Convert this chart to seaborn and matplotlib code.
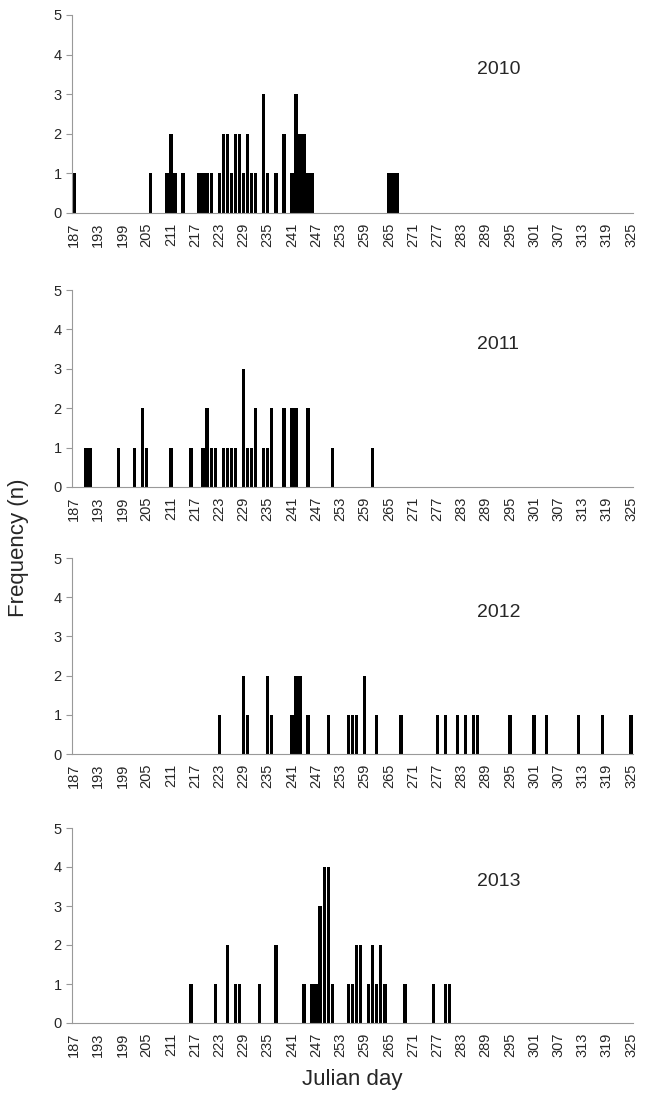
import matplotlib.pyplot as plt
import seaborn as sns
import pandas as pd

days_2010 = [187, 206, 210, 211, 212, 214, 218, 219, 220, 221, 223, 224, 225, 226, 227, 228, 229, 230,
             231, 232, 234, 235, 237, 239, 241, 242, 243, 244, 245, 246, 265, 266, 267]
n_2010 = [1, 1, 1, 2, 1, 1, 1, 1, 1, 1, 1, 2, 2, 1, 2, 2, 1, 2,
          1, 1, 3, 1, 1, 2, 1, 3, 2, 2, 1, 1, 1, 1, 1]

days_2011 = [190, 191, 198, 202, 204, 205, 211, 216, 219, 220, 221, 222, 224, 225, 226, 227, 229, 230,
             231, 232, 234, 235, 236, 239, 241, 242, 245, 251, 261]
n_2011 = [1, 1, 1, 1, 2, 1, 1, 1, 1, 2, 1, 1, 1, 1, 1, 1, 3, 1,
          1, 2, 1, 1, 2, 2, 2, 2, 2, 1, 1]

days_2012 = [223, 229, 230, 235, 236, 241, 242, 243, 245, 250, 255, 256, 257, 259, 262, 268, 277, 279,
             282, 284, 286, 287, 295, 301, 304, 312, 318, 325]
n_2012 = [1, 2, 1, 2, 1, 1, 2, 2, 1, 1, 1, 1, 1, 2, 1, 1, 1, 1,
          1, 1, 1, 1, 1, 1, 1, 1, 1, 1]

days_2013 = [216, 222, 225, 227, 228, 233, 237, 244, 246, 247, 248, 249, 250, 251, 255, 256, 257, 258,
             260, 261, 262, 263, 264, 269, 276, 279, 280]
n_2013 = [1, 1, 2, 1, 1, 1, 2, 1, 1, 1, 3, 4, 4, 1, 1, 1, 2, 2,
          1, 2, 1, 2, 1, 1, 1, 1, 1]

years = ['2010', '2011', '2012', '2013']
all_days = [days_2010, days_2011, days_2012, days_2013]
all_n = [n_2010, n_2011, n_2012, n_2013]
tick_days = list(range(187, 326, 6))

sns.set_style('white')
plt.rcParams['font.family'] = ['Liberation Sans', 'DejaVu Sans']

fig = plt.figure(figsize=(6.45, 10.96), dpi=100)
H = 1096
W = 645
tops = [15, 290, 558, 828]
bottoms = [213, 487, 754, 1023]
left, right = 72, 633

for i in range(4):
    ax = fig.add_axes([left / W, 1 - bottoms[i] / H, (right - left) / W, (bottoms[i] - tops[i]) / H])
    full = pd.DataFrame({'day': list(range(187, 326))})
    df = pd.DataFrame({'day': all_days[i], 'n': all_n[i]})
    full = full.merge(df, on='day', how='left').fillna(0)
    sns.barplot(data=full, x='day', y='n', color='black', width=0.85, linewidth=0,
                native_scale=True, ax=ax, saturation=1)
    ax.set_xlim(186.5, 325.5)
    ax.set_ylim(0, 5)
    ax.set_yticks(range(6))
    ax.set_xticks(tick_days)
    ax.set_xticks(range(187, 326), minor=True)
    ax.tick_params(axis='x', which='major', labelrotation=90, length=5, color='#999999', labelsize=10.5, pad=2)
    ax.tick_params(axis='x', which='minor', length=4, color='#999999', width=0.6)
    ax.tick_params(axis='y', length=4, color='#999999', labelsize=10.5, left=True)
    for s in ['top', 'right']:
        ax.spines[s].set_visible(False)
    for s in ['left', 'bottom']:
        ax.spines[s].set_color('#999999')
    ax.set_xlabel('')
    ax.set_ylabel('')
    ax.text(0.76, 0.7, years[i], transform=ax.transAxes, fontsize=14, ha='center')

fig.text(0.028, 0.5, 'Frequency (n)', rotation=90, fontsize=16, va='center', ha='center')
fig.text((left + right) / 2 / W, 1 - 1080 / H, 'Julian day', fontsize=16, ha='center', va='center')

fig.savefig('out.png', dpi=100)
